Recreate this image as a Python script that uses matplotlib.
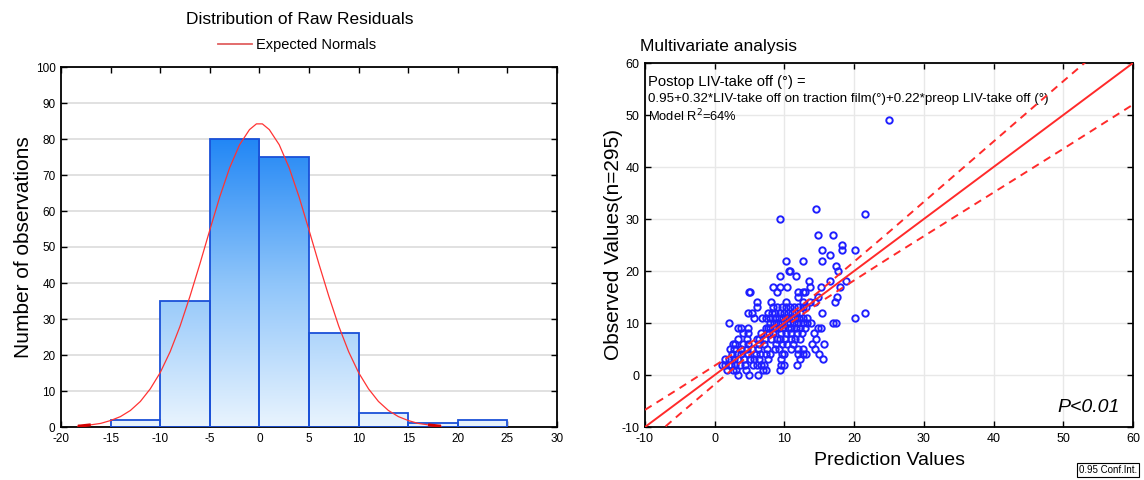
import matplotlib
matplotlib.use("Agg")
import matplotlib.pyplot as plt
import numpy as np
from matplotlib.colors import LinearSegmentedColormap
from matplotlib.lines import Line2D

plt.rcParams['font.family'] = ['Liberation Sans', 'DejaVu Sans']
plt.rcParams['axes.unicode_minus'] = False

# ---------------- Left panel data: residual histogram ----------------
bin_left = [-15, -10, -5, 0, 5, 10, 15, 20]
bin_width = 5
bin_counts = [2, 35, 80, 75, 26, 4, 1, 2]

# Expected normal curve
normal_x = [-18.3, -18, -17, -16, -15, -14, -13, -12, -11, -10, -9, -8, -7, -6, -5, -4, -3, -2, -1,
            -0.3, 0.3, 1, 2, 3, 4, 5, 6, 7, 8, 9, 10, 11, 12, 13, 14, 15, 16, 17, 18, 18.3]
normal_y = [0.25, 0.3, 0.6, 1.0, 1.8, 2.9, 4.6, 7.1, 10.6, 15.1, 20.9, 28.0, 36.3, 45.3, 54.7, 63.9, 72.0, 78.4, 82.6,
            84.2, 84.2, 82.6, 78.4, 72.0, 63.9, 54.7, 45.3, 36.3, 28.0, 20.9, 15.1, 10.6, 7.1, 4.6, 2.9, 1.8, 1.0, 0.6, 0.3, 0.25]

hist_xticks = [-20, -15, -10, -5, 0, 5, 10, 15, 20, 25, 30]
hist_yticks = [0, 10, 20, 30, 40, 50, 60, 70, 80, 90, 100]

# ---------------- Right panel data: observed vs predicted ----------------
pred = [3.3, 4.9, 6.2,
        1.8, 2.6, 3.0, 4.5, 6.9, 7.3, 9.3,
        1.0, 1.5, 2.0, 2.4, 2.9, 3.6, 4.3, 5.5, 6.0, 6.6, 7.0, 9.5, 10.0, 11.8,
        1.5, 2.1, 2.7, 3.3, 4.2, 5.0, 5.7, 6.3, 7.6, 9.5, 12.2, 15.5,
        2.5, 3.2, 3.8, 4.8, 5.9, 6.5, 7.3, 8.0, 9.7, 10.0, 11.9, 12.6, 13.1, 15.0,
        2.2, 2.8, 3.7, 4.6, 5.3, 6.2, 7.5, 8.7, 9.2, 10.9, 12.0, 12.6, 14.4,
        2.6, 2.9, 4.0, 4.8, 6.3, 7.0, 8.8, 9.6, 10.4, 11.2, 13.9, 15.7,
        3.3, 4.6, 6.0, 6.4, 7.2, 8.1, 8.9, 9.4, 10.1, 10.9, 11.5, 12.2, 14.5,
        4.0, 4.8, 6.6, 7.8, 8.3, 9.5, 10.2, 11.0, 11.8, 12.5, 14.2,
        3.3, 3.8, 4.8, 7.3, 7.6, 8.0, 8.6, 9.2, 9.8, 10.5, 11.0, 11.6, 12.3, 13.0, 14.8, 15.2,
        2.1, 7.9, 8.5, 9.1, 9.7, 10.3, 10.8, 11.4, 12.0, 12.6, 13.2, 13.8, 16.9, 17.4,
        5.7, 6.8, 7.4, 8.0, 8.6, 9.2, 9.8, 10.4, 11.0, 11.5, 12.1, 12.7, 13.3, 20.1,
        4.8, 5.3, 7.6, 8.2, 8.7, 9.3, 9.9, 10.5, 11.1, 11.7, 12.3, 15.4, 21.6,
        6.0, 8.4, 9.0, 9.6, 10.2, 10.8, 11.4, 12.0, 12.6, 13.1,
        6.0, 8.1, 10.2, 12.6, 13.7, 14.4, 17.2,
        11.9, 14.8, 17.6,
        4.9, 5.1, 8.9, 11.9, 12.6, 13.0,
        8.4, 9.3, 10.4, 13.7, 15.2, 18.0,
        13.5, 16.6, 18.9,
        9.3, 11.6,
        10.6, 10.8, 17.7,
        17.4,
        10.2, 12.6, 15.4,
        16.6,
        15.4, 18.2, 20.1,
        18.2,
        14.8, 17.0,
        9.3,
        21.6,
        14.6,
        25.0]
obs = [0, 0, 0,
       1, 1, 1, 1, 1, 1, 1,
       2, 2, 2, 2, 2, 2, 2, 2, 2, 2, 2, 2, 2, 2,
       3, 3, 3, 3, 3, 3, 3, 3, 3, 3, 3, 3,
       4, 4, 4, 4, 4, 4, 4, 4, 4, 4, 4, 4, 4, 4,
       5, 5, 5, 5, 5, 5, 5, 5, 5, 5, 5, 5, 5,
       6, 6, 6, 6, 6, 6, 6, 6, 6, 6, 6, 6,
       7, 7, 7, 7, 7, 7, 7, 7, 7, 7, 7, 7, 7,
       8, 8, 8, 8, 8, 8, 8, 8, 8, 8, 8,
       9, 9, 9, 9, 9, 9, 9, 9, 9, 9, 9, 9, 9, 9, 9, 9,
       10, 10, 10, 10, 10, 10, 10, 10, 10, 10, 10, 10, 10, 10,
       11, 11, 11, 11, 11, 11, 11, 11, 11, 11, 11, 11, 11, 11,
       12, 12, 12, 12, 12, 12, 12, 12, 12, 12, 12, 12, 12,
       13, 13, 13, 13, 13, 13, 13, 13, 13, 13,
       14, 14, 14, 14, 14, 14, 14,
       15, 15, 15,
       16, 16, 16, 16, 16, 16,
       17, 17, 17, 17, 17, 17,
       18, 18, 18,
       19, 19,
       20, 20, 20,
       21,
       22, 22, 22,
       23,
       24, 24, 24,
       25,
       27, 27,
       30,
       31,
       32,
       49]

fit_x = [-10, 60]
fit_y = [-10, 60]
band_x = [-10, -5, 0, 5, 10, 15, 20, 25, 30, 40, 50, 60]
band_upper = [-6.7, -2.5, 1.8, 6.1, 10.8, 16.1, 21.8, 27.5, 33.3, 44.9, 56.5, 68.0]
band_lower = [-13.3, -7.5, -1.8, 3.9, 9.2, 13.9, 18.2, 22.5, 26.7, 35.1, 43.5, 52.0]

scat_ticks = [-10, 0, 10, 20, 30, 40, 50, 60]

# ---------------- Figure ----------------
fig = plt.figure(figsize=(11.44, 4.8), dpi=100)

# Left axes
ax1 = fig.add_axes([61/1144, 1-427/480, (557-61)/1144, (427-67)/480])
ax1.set_xticks(hist_xticks)
ax1.set_yticks(hist_yticks)
ax1.yaxis.grid(True, color='#dcdcdc', lw=1.2)
ax1.set_axisbelow(True)

cmap = LinearSegmentedColormap.from_list('bluegrad', ['#e9f4fe', '#8fc5fa', '#2287f5'])
grad = np.linspace(0, 1, 256).reshape(-1, 1)
bars = ax1.bar(bin_left, bin_counts, width=bin_width, align='edge',
               facecolor='none', edgecolor='#1a50d8', linewidth=1.3, zorder=3)
for b in bars:
    im = ax1.imshow(grad, cmap=cmap, origin='lower', aspect='auto',
                    extent=[-20, 30, 0, 80], zorder=2, interpolation='bicubic')
    im.set_clip_path(b)
ax1.set_xlim(-20, 30)
ax1.set_ylim(0, 100)

ax1.plot(normal_x, normal_y, color='#ff3333', lw=0.9, zorder=4)
ax1.plot(normal_x[:3], normal_y[:3], color='#d40000', lw=2.2, zorder=5, solid_capstyle='butt')
ax1.plot(normal_x[-3:], normal_y[-3:], color='#d40000', lw=2.2, zorder=5, solid_capstyle='butt')

ax1.tick_params(direction='in', top=True, right=True, length=4, width=1, labelsize=8.5, pad=4)
for s in ax1.spines.values():
    s.set_linewidth(1.3)
ax1.set_ylabel('Number of observations', fontsize=15)
ax1.yaxis.set_label_coords((33-61)/496, 0.5)
fig.text(300/1144, 1-20/480, 'Distribution of Raw Residuals', ha='center', va='center', fontsize=12.5)
ax1.legend(handles=[Line2D([0], [0], color='#e06060', lw=1.3)], labels=['Expected Normals'],
           loc='center', bbox_to_anchor=((297-61)/496, (427-45)/360), frameon=False,
           fontsize=10.5, handlelength=2.3, handletextpad=0.3, borderpad=0)

# Right axes
ax2 = fig.add_axes([645/1144, 1-427/480, (1133-645)/1144, (427-63)/480])
ax2.set_xlim(-10, 60)
ax2.set_ylim(-10, 60)
ax2.set_xticks(scat_ticks)
ax2.set_yticks(scat_ticks)
ax2.grid(True, color='#e8e8e8', lw=1.0)
ax2.set_axisbelow(True)

ax2.plot(pred, obs, linestyle='none', marker='o', ms=4.6, mfc='none', mec='#1f1fff', mew=1.4, zorder=3)
ax2.plot(fit_x, fit_y, color='#ff2a2a', lw=1.4, zorder=4)
ax2.plot(band_x, band_upper, color='#ff2a2a', lw=1.4, ls=(0, (4, 3)), zorder=4)
ax2.plot(band_x, band_lower, color='#ff2a2a', lw=1.4, ls=(0, (4, 3)), zorder=4)

ax2.tick_params(direction='in', top=True, right=True, length=4, width=1, labelsize=9, pad=4)
for s in ax2.spines.values():
    s.set_linewidth(1.3)
ax2.set_ylabel('Observed Values(n=295)', fontsize=15)
ax2.yaxis.set_label_coords((623-645)/488, 0.5)
ax2.set_xlabel('Prediction Values', fontsize=14)
ax2.xaxis.set_label_coords((890-645)/488, (427-452)/364)
fig.text(640/1144, 1-47/480, 'Multivariate analysis', ha='left', va='center', fontsize=12.5)

ax2.text(-9.5, 56.4, 'Postop LIV-take off (°) =', fontsize=10.6, ha='left', va='center')
ax2.text(-9.5, 53.0, '0.95+0.32*LIV-take off on traction film(°)+0.22*preop LIV-take off (°)',
         fontsize=9.6, ha='left', va='center')
ax2.text(-9.5, 49.8, 'Model R$^2$=64%', fontsize=9.3, ha='left', va='center')
ax2.text(53.6, -6.3, 'P<0.01', fontsize=14, style='italic', ha='center', va='center')

fig.text(1108/1144, 1-470/480, '0.95 Conf.Int.', fontsize=7, ha='center', va='center',
         bbox=dict(boxstyle='square,pad=0.25', facecolor='white', edgecolor='black', lw=0.8))

fig.savefig('out.png', dpi=100)
